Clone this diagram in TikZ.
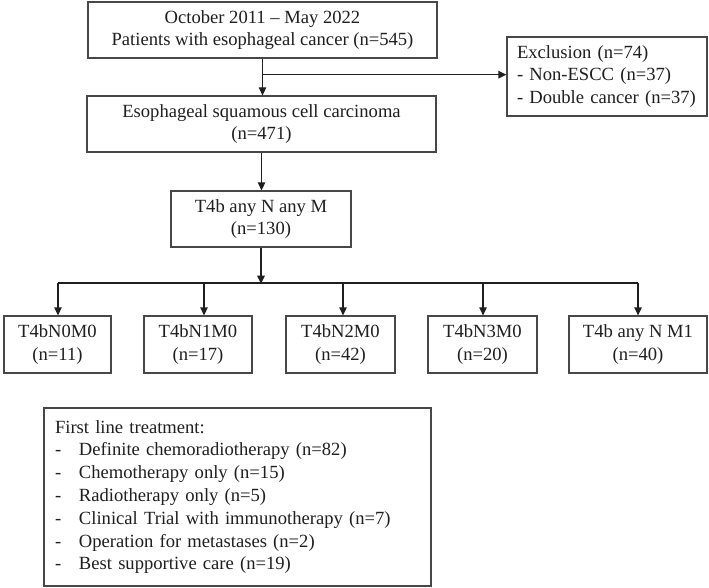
\documentclass[tikz,border=0pt]{standalone}
\usepackage{fontspec}
\setmainfont{Liberation Serif}
\usetikzlibrary{arrows.meta}
\begin{document}
\begin{tikzpicture}[x=1pt,y=-1pt,
  box/.style={draw=black!72, line width=1.3pt, align=center, inner sep=0pt, text=black!88,
    font=\fontsize{18.6}{22.8}\selectfont},
  conn/.style={draw=black!88, line width=1.3pt, -{Triangle[length=8pt,width=7.5pt]}},
  barline/.style={draw=black!88, line width=1.3pt}]
\useasboundingbox[fill=white] (0,0) rectangle (709,588);
\node[box, minimum width=349pt, minimum height=56pt] (top) at (262.5,30)
  {October 2011 – May 2022\\Patients with esophageal cancer (n=545)};
\node[box, minimum width=200pt, minimum height=79pt, text width=180pt, align=left] (excl) at (607,76.5)
  {Exclusion (n=74)\\- Non-ESCC (n=37)\\- Double cancer (n=37)};
\node[box, minimum width=349pt, minimum height=56pt] (escc) at (261.5,124)
  {Esophageal squamous cell carcinoma\\(n=471)};
\node[box, minimum width=180pt, minimum height=56pt] (t4b) at (261,219)
  {T4b any N any M\\(n=130)};
\node[box, minimum width=107pt, minimum height=57pt] (n0) at (57.5,344.5) {T4bN0M0\\(n=11)};
\node[box, minimum width=108pt, minimum height=57pt] (n1) at (198,344.5) {T4bN1M0\\(n=17)};
\node[box, minimum width=109pt, minimum height=57pt] (n2) at (340.5,344.5) {T4bN2M0\\(n=42)};
\node[box, minimum width=109pt, minimum height=57pt] (n3) at (482.5,344.5) {T4bN3M0\\(n=20)};
\node[box, minimum width=138pt, minimum height=57pt] (m1) at (638,344.5) {T4b any N M1\\(n=40)};
\node[box, minimum width=387pt, minimum height=178pt, text width=365pt, align=left] (tx) at (237.5,497)
  {First line treatment:\\
   \makebox[24pt][l]{-}Definite chemoradiotherapy (n=82)\\
   \makebox[24pt][l]{-}Chemotherapy only (n=15)\\
   \makebox[24pt][l]{-}Radiotherapy only (n=5)\\
   \makebox[24pt][l]{-}Clinical Trial with immunotherapy (n=7)\\
   \makebox[24pt][l]{-}Operation for metastases (n=2)\\
   \makebox[24pt][l]{-}Best supportive care (n=19)};
% connectors
\draw[conn] (top.south) -- (top.south |- escc.north);
\coordinate (br) at ([yshift=-16pt]top.south);
\draw[conn] (br) -- (br -| excl.west);
\draw[conn] (escc.south) -- (escc.south |- t4b.north);
\coordinate (bar) at ([yshift=-36pt]t4b.south);
\draw[conn] (t4b.south) -- (bar);
\coordinate (b1) at (58,283);
\coordinate (b2) at (204,283);
\coordinate (b3) at (343,283);
\coordinate (b4) at (483,283);
\coordinate (b5) at (638,283);
\draw[barline] (b1) -- (b5);
\draw[conn] (b1) -- (b1 |- n0.north);
\draw[conn] (b2) -- (b2 |- n1.north);
\draw[conn] (b3) -- (b3 |- n2.north);
\draw[conn] (b4) -- (b4 |- n3.north);
\draw[conn] (b5) -- (b5 |- m1.north);
\end{tikzpicture}
\end{document}
